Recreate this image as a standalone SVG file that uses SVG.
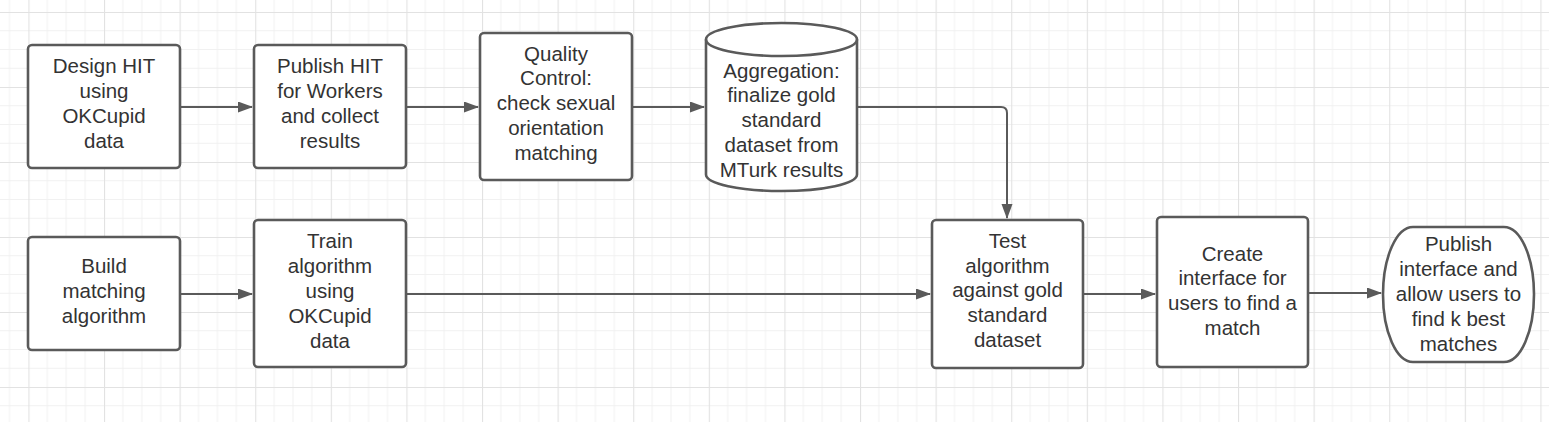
<svg xmlns="http://www.w3.org/2000/svg" width="1549" height="422" viewBox="0 0 1549 422">
<style>
.box{fill:#ffffff;stroke:#5a5a5a;stroke-width:2.6}
.t{font-family:"Liberation Sans",Arial,Helvetica,sans-serif;font-size:20.5px;fill:#333333;text-anchor:middle}
.c{fill:none;stroke:#5a5a5a;stroke-width:2}
</style>
<defs>
<pattern id="grid" x="28.4" y="12" width="75.6" height="75" patternUnits="userSpaceOnUse">
<path d="M18.9,0V75M37.8,0V75M56.7,0V75M0,18.75H75.6M0,37.5H75.6M0,56.25H75.6" fill="none" stroke="#f1f1f1" stroke-width="1"/>
<path d="M0.5,0V75M0,0.5H75.6" fill="none" stroke="#e2e2e2" stroke-width="1.2"/>
</pattern>
<marker id="arr" markerWidth="15" markerHeight="12" refX="14" refY="5.5" orient="auto" markerUnits="userSpaceOnUse">
<path d="M0,0L15,5.5L0,11Z" fill="#5a5a5a"/>
</marker>
</defs>
<rect width="1549" height="422" fill="#ffffff"/>
<rect width="1549" height="422" fill="url(#grid)"/>
<g id="connectors">
<path class="c" d="M180,107H252" marker-end="url(#arr)"/>
<path class="c" d="M406,107H478" marker-end="url(#arr)"/>
<path class="c" d="M632,107H704" marker-end="url(#arr)"/>
<path class="c" d="M857,107H1001Q1007,107 1007,113V218" marker-end="url(#arr)"/>
<path class="c" d="M180,294H252" marker-end="url(#arr)"/>
<path class="c" d="M406,294H930" marker-end="url(#arr)"/>
<path class="c" d="M1083,294H1155" marker-end="url(#arr)"/>
<path class="c" d="M1308,293H1381" marker-end="url(#arr)"/>
</g>
<g id="n1">
<rect class="box" x="28" y="45" width="152" height="123" rx="4"/>
<text class="t"><tspan x="104" y="73">Design HIT</tspan><tspan x="104" y="97.9">using</tspan><tspan x="104" y="122.8">OKCupid</tspan><tspan x="104" y="147.7">data</tspan></text>
</g>
<g id="n2">
<rect class="box" x="254" y="45" width="152" height="123" rx="4"/>
<text class="t"><tspan x="330" y="73">Publish HIT</tspan><tspan x="330" y="97.9">for Workers</tspan><tspan x="330" y="122.8">and collect</tspan><tspan x="330" y="147.7">results</tspan></text>
</g>
<g id="n3">
<rect class="box" x="480" y="33" width="152" height="147" rx="4"/>
<text class="t"><tspan x="556" y="60.5">Quality</tspan><tspan x="556" y="85.4">Control:</tspan><tspan x="556" y="110.3">check sexual</tspan><tspan x="556" y="135.2">orientation</tspan><tspan x="556" y="160.1">matching</tspan></text>
</g>
<g id="n4">
<path class="box" d="M706,39.5A75.5,16.5 0 0 1 857,39.5V174.5A75.5,16.5 0 0 1 706,174.5Z"/>
<path class="box" style="fill:none" d="M706,39.5A75.5,16.5 0 0 0 857,39.5"/>
<text class="t"><tspan x="781.5" y="77.5">Aggregation:</tspan><tspan x="781.5" y="102.3">finalize gold</tspan><tspan x="781.5" y="127.1">standard</tspan><tspan x="781.5" y="151.9">dataset from</tspan><tspan x="781.5" y="176.7">MTurk results</tspan></text>
</g>
<g id="n5">
<rect class="box" x="28" y="237" width="152" height="113" rx="4"/>
<text class="t"><tspan x="104" y="273">Build</tspan><tspan x="104" y="297.9">matching</tspan><tspan x="104" y="322.8">algorithm</tspan></text>
</g>
<g id="n6">
<rect class="box" x="254" y="220" width="152" height="147" rx="4"/>
<text class="t"><tspan x="330" y="248">Train</tspan><tspan x="330" y="272.9">algorithm</tspan><tspan x="330" y="297.8">using</tspan><tspan x="330" y="322.7">OKCupid</tspan><tspan x="330" y="347.6">data</tspan></text>
</g>
<g id="n7">
<rect class="box" x="932" y="220" width="151" height="148" rx="4"/>
<text class="t"><tspan x="1007.5" y="247.7">Test</tspan><tspan x="1007.5" y="272.5">algorithm</tspan><tspan x="1007.5" y="297.3">against gold</tspan><tspan x="1007.5" y="322.1">standard</tspan><tspan x="1007.5" y="346.9">dataset</tspan></text>
</g>
<g id="n8">
<rect class="box" x="1157" y="217" width="151" height="150" rx="4"/>
<text class="t"><tspan x="1232.5" y="260.5">Create</tspan><tspan x="1232.5" y="285.4">interface for</tspan><tspan x="1232.5" y="310.3">users to find a</tspan><tspan x="1232.5" y="335.2">match</tspan></text>
</g>
<g id="n9">
<rect class="box" x="1383" y="227" width="151" height="135" rx="30" ry="67.5"/>
<text class="t"><tspan x="1458.5" y="250.7">Publish</tspan><tspan x="1458.5" y="275.7">interface and</tspan><tspan x="1458.5" y="300.7">allow users to</tspan><tspan x="1458.5" y="325.7">find k best</tspan><tspan x="1458.5" y="350.7">matches</tspan></text>
</g>
</svg>
